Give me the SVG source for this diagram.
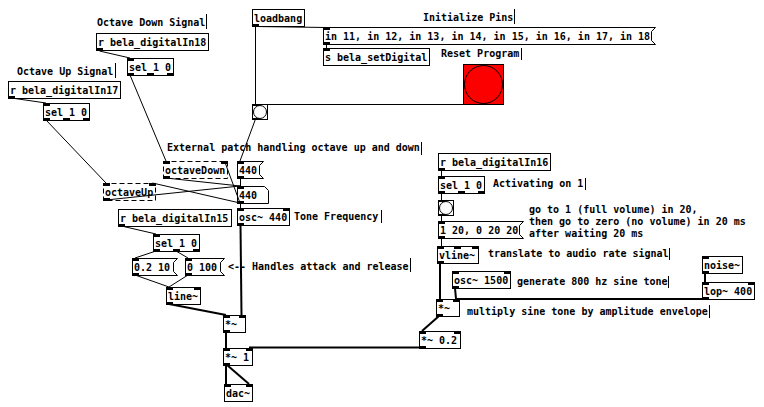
<svg xmlns="http://www.w3.org/2000/svg" width="764" height="407" viewBox="0 0 764 407">
<style>
.t{font-family:"DejaVu Sans Mono","Liberation Mono",monospace;font-size:10px;font-weight:bold;fill:#000}
.b{fill:none;stroke:#000;stroke-width:1}
.d{fill:none;stroke:#000;stroke-width:1;stroke-dasharray:5 3}
.io{fill:#000}
.c{fill:none;stroke:#000;stroke-width:1}
.s{fill:none;stroke:#000;stroke-width:2}
.bar{stroke:#000;stroke-width:1}
</style>
<rect width="764" height="407" fill="#fff"/>

<g id="cmt-octdown"><text class="t" x="97" y="26">Octave Down Signal</text><line class="bar" x1="206.5" y1="14" x2="206.5" y2="29"/></g>
<g id="r18"><rect class="b" x="96.5" y="33.5" width="112" height="17"/><rect class="io" x="96" y="48" width="7" height="3"/><text class="t" x="98" y="46">r bela_digitalIn18</text></g>
<g id="sel1"><rect class="b" x="127.5" y="58.5" width="46" height="17"/><rect class="io" x="127" y="58" width="7" height="3"/><rect class="io" x="127" y="73" width="7" height="3"/><rect class="io" x="147" y="73" width="7" height="3"/><rect class="io" x="167" y="73" width="7" height="3"/><text class="t" x="129" y="71">sel 1 0</text></g>
<g id="cmt-octup"><text class="t" x="17" y="75">Octave Up Signal</text><line class="bar" x1="115.5" y1="63" x2="115.5" y2="78"/></g>
<g id="r17"><rect class="b" x="8.5" y="81.5" width="112" height="17"/><rect class="io" x="8" y="96" width="7" height="3"/><text class="t" x="10" y="94">r bela_digitalIn17</text></g>
<g id="sel2"><rect class="b" x="43.5" y="103.5" width="46" height="17"/><rect class="io" x="43" y="103" width="7" height="3"/><rect class="io" x="43" y="118" width="7" height="3"/><rect class="io" x="63" y="118" width="7" height="3"/><rect class="io" x="83" y="118" width="7" height="3"/><text class="t" x="45" y="116">sel 1 0</text></g>

<g id="loadbang"><rect class="b" x="252.5" y="9.5" width="52" height="17"/><rect class="io" x="252" y="24" width="7" height="3"/><text class="t" x="254" y="22">loadbang</text></g>
<g id="cmt-init"><text class="t" x="423" y="21">Initialize Pins</text><line class="bar" x1="514.5" y1="9" x2="514.5" y2="24"/></g>
<g id="msg-pins"><path class="b" d="M323.5,27.5H655.5L651.5,31.5V40.5L655.5,44.5H323.5Z"/><rect class="io" x="323" y="27" width="7" height="3"/><rect class="io" x="323" y="42" width="7" height="3"/><text class="t" x="325" y="40">in 11, in 12, in 13, in 14, in 15, in 16, in 17, in 18</text></g>
<g id="send-digital"><rect class="b" x="323.5" y="48.5" width="106" height="17"/><rect class="io" x="323" y="48" width="7" height="3"/><text class="t" x="325" y="61">s bela_setDigital</text></g>
<g id="cmt-reset"><text class="t" x="441" y="57">Reset Program</text><line class="bar" x1="521.5" y1="48" x2="521.5" y2="60"/></g>
<g id="reset-bng"><rect x="463.5" y="64.5" width="40" height="40" fill="#fc0000" stroke="#000" stroke-width="1"/><circle cx="483.5" cy="84.5" r="19" fill="none" stroke="#000" stroke-width="1"/></g>
<g id="bng1"><rect class="b" x="252.5" y="104.5" width="15" height="15" fill="#fff"/><circle cx="260" cy="112" r="6.5" fill="#fcfcfc" stroke="#000"/><rect class="io" x="252" y="104" width="7" height="2"/><rect class="io" x="252" y="118" width="7" height="2"/></g>

<g id="cmt-external"><text class="t" x="167" y="151">External patch handling octave up and down</text><line class="bar" x1="421.5" y1="142" x2="421.5" y2="155"/></g>
<g id="octaveDown"><rect class="d" x="163.5" y="161.5" width="64" height="17"/><rect class="io" x="163" y="161" width="7" height="3"/><rect class="io" x="221" y="161" width="7" height="3"/><rect class="io" x="163" y="176" width="7" height="3"/><text class="t" x="165" y="174">octaveDown</text></g>
<g id="msg440"><path class="b" d="M237.5,161.5H263.5L259.5,165.5V174.5L263.5,178.5H237.5Z"/><rect class="io" x="237" y="161" width="7" height="3"/><rect class="io" x="237" y="176" width="7" height="3"/><text class="t" x="239" y="174">440</text></g>
<g id="octaveUp"><rect class="d" x="103.5" y="183.5" width="52" height="17"/><rect class="io" x="103" y="183" width="7" height="3"/><rect class="io" x="149" y="183" width="7" height="3"/><rect class="io" x="103" y="198" width="7" height="3"/><text class="t" x="105" y="196">octaveUp</text></g>
<g id="num440"><path class="b" d="M237.5,186.5H264.5L268.5,190.5V203.5H237.5Z"/><rect class="io" x="237" y="186" width="7" height="3"/><rect class="io" x="237" y="201" width="7" height="3"/><text class="t" x="239" y="199">440</text></g>
<g id="osc440"><rect class="b" x="237.5" y="208.5" width="52" height="17"/><rect class="io" x="237" y="208" width="7" height="3"/><rect class="io" x="283" y="208" width="7" height="3"/><rect class="io" x="237" y="223" width="7" height="3"/><text class="t" x="239" y="221">osc~ 440</text></g>
<g id="cmt-tone"><text class="t" x="294" y="220">Tone Frequency</text><line class="bar" x1="381.5" y1="210" x2="381.5" y2="223"/></g>
<g id="r15"><rect class="b" x="118.5" y="209.5" width="113" height="17"/><rect class="io" x="118" y="224" width="7" height="3"/><text class="t" x="120" y="222">r bela_digitalIn15</text></g>
<g id="sel3"><rect class="b" x="153.5" y="234.5" width="46" height="17"/><rect class="io" x="153" y="234" width="7" height="3"/><rect class="io" x="153" y="249" width="7" height="3"/><rect class="io" x="173" y="249" width="7" height="3"/><rect class="io" x="193" y="249" width="7" height="3"/><text class="t" x="155" y="247">sel 1 0</text></g>
<g id="msg-attack"><path class="b" d="M132.5,258.5H177.5L173.5,262.5V271.5L177.5,275.5H132.5Z"/><rect class="io" x="132" y="258" width="7" height="3"/><rect class="io" x="132" y="273" width="7" height="3"/><text class="t" x="134" y="271">0.2 10</text></g>
<g id="msg-release"><path class="b" d="M185.5,258.5H224.5L220.5,262.5V271.5L224.5,275.5H185.5Z"/><rect class="io" x="185" y="258" width="7" height="3"/><rect class="io" x="185" y="273" width="7" height="3"/><text class="t" x="187" y="271">0 100</text></g>
<g id="cmt-handles"><text class="t" x="228" y="270">&lt;-- Handles attack and release</text><line class="bar" x1="410.5" y1="258" x2="410.5" y2="272"/></g>
<g id="line"><rect class="b" x="166.5" y="287.5" width="34" height="17"/><rect class="io" x="166" y="287" width="7" height="3"/><rect class="io" x="194" y="287" width="7" height="3"/><rect class="io" x="166" y="302" width="7" height="3"/><text class="t" x="168" y="300">line~</text></g>
<g id="mul-a"><rect class="b" x="223.5" y="315.5" width="22" height="17"/><rect class="io" x="223" y="315" width="7" height="3"/><rect class="io" x="239" y="315" width="7" height="3"/><rect class="io" x="223" y="330" width="7" height="3"/><text class="t" x="225" y="328">*~</text></g>
<g id="mul-1"><rect class="b" x="223.5" y="348.5" width="29" height="17"/><rect class="io" x="223" y="348" width="7" height="3"/><rect class="io" x="246" y="348" width="7" height="3"/><rect class="io" x="223" y="363" width="7" height="3"/><text class="t" x="225" y="361">*~ 1</text></g>
<g id="dac"><rect class="b" x="224.5" y="384.5" width="28" height="17"/><rect class="io" x="224" y="384" width="7" height="3"/><rect class="io" x="246" y="384" width="7" height="3"/><text class="t" x="226" y="397">dac~</text></g>

<g id="r16"><rect class="b" x="438.5" y="153.5" width="112" height="17"/><rect class="io" x="438" y="168" width="7" height="3"/><text class="t" x="440" y="166">r bela_digitalIn16</text></g>
<g id="sel4"><rect class="b" x="438.5" y="176.5" width="46" height="17"/><rect class="io" x="438" y="176" width="7" height="3"/><rect class="io" x="438" y="191" width="7" height="3"/><rect class="io" x="458" y="191" width="7" height="3"/><rect class="io" x="478" y="191" width="7" height="3"/><text class="t" x="440" y="189">sel 1 0</text></g>
<g id="cmt-activating"><text class="t" x="493" y="187">Activating on 1</text><line class="bar" x1="585.5" y1="178" x2="585.5" y2="190"/></g>
<g id="bng2"><rect class="b" x="438.5" y="200.5" width="15" height="15"/><circle cx="446" cy="208" r="6.5" fill="#fcfcfc" stroke="#000"/><rect class="io" x="438" y="200" width="7" height="2"/><rect class="io" x="438" y="214" width="7" height="2"/></g>
<g id="cmt-goto"><text class="t" x="529" y="213">go to 1 (full volume) in 20,</text><text class="t" x="529" y="225">then go to zero (no volume) in 20 ms</text><text class="t" x="529" y="237">after waiting 20 ms</text></g>
<g id="msg-env"><path class="b" d="M438.5,221.5H523.5L519.5,225.5V234.5L523.5,238.5H438.5Z"/><rect class="io" x="438" y="221" width="7" height="3"/><rect class="io" x="438" y="236" width="7" height="3"/><text class="t" x="440" y="234">1 20, 0 20 20</text></g>
<g id="vline"><rect class="b" x="437.5" y="246.5" width="41" height="17"/><rect class="io" x="437" y="246" width="7" height="3"/><rect class="io" x="454" y="246" width="7" height="3"/><rect class="io" x="472" y="246" width="7" height="3"/><rect class="io" x="437" y="261" width="7" height="3"/><text class="t" x="439" y="259">vline~</text></g>
<g id="cmt-translate"><text class="t" x="488" y="257">translate to audio rate signal</text><line class="bar" x1="669.5" y1="248" x2="669.5" y2="260"/></g>
<g id="noise"><rect class="b" x="702.5" y="256.5" width="40" height="17"/><rect class="io" x="702" y="256" width="7" height="3"/><rect class="io" x="702" y="271" width="7" height="3"/><text class="t" x="704" y="269">noise~</text></g>
<g id="osc1500"><rect class="b" x="452.5" y="271.5" width="58" height="17"/><rect class="io" x="452" y="271" width="7" height="3"/><rect class="io" x="504" y="271" width="7" height="3"/><rect class="io" x="452" y="286" width="7" height="3"/><text class="t" x="454" y="284">osc~ 1500</text></g>
<g id="cmt-generate"><text class="t" x="517" y="285">generate 800 hz sine tone</text><line class="bar" x1="668.5" y1="276" x2="668.5" y2="288"/></g>
<g id="lop"><rect class="b" x="702.5" y="282.5" width="52" height="17"/><rect class="io" x="702" y="282" width="7" height="3"/><rect class="io" x="748" y="282" width="7" height="3"/><rect class="io" x="702" y="297" width="7" height="3"/><text class="t" x="704" y="295">lop~ 400</text></g>
<g id="mul-b"><rect class="b" x="436.5" y="299.5" width="23" height="17"/><rect class="io" x="436" y="299" width="7" height="3"/><rect class="io" x="453" y="299" width="7" height="3"/><rect class="io" x="436" y="314" width="7" height="3"/><text class="t" x="438" y="312">*~</text></g>
<g id="cmt-multiply"><text class="t" x="467" y="315">multiply sine tone by amplitude envelope</text><line class="bar" x1="709.5" y1="305" x2="709.5" y2="318"/></g>
<g id="mul-02"><rect class="b" x="419.5" y="331.5" width="41" height="17"/><rect class="io" x="419" y="331" width="7" height="3"/><rect class="io" x="454" y="331" width="7" height="3"/><rect class="io" x="419" y="346" width="7" height="3"/><text class="t" x="421" y="344">*~ 0.2</text></g>

<g id="connectors">
<path class="c" d="M99.5,51L130,58"/>
<path class="c" d="M130,75L166,161"/>
<path class="c" d="M11.5,98L46,103"/>
<path class="c" d="M46,120L106,183"/>
<path class="c" d="M255.5,26.5L326,27.5"/>
<path class="c" d="M255.5,26V104"/>
<path class="c" d="M326.5,44V48"/>
<path class="c" d="M466,104.5H255.5"/>
<path class="c" d="M255.5,119L240,161"/>
<path class="c" d="M240.5,178V186"/>
<path class="c" d="M166,178L240,186"/>
<path class="c" d="M106,200L240,186"/>
<path class="c" d="M240,203L224.5,161"/>
<path class="c" d="M240,203L152.5,183"/>
<path class="c" d="M240.5,203V208"/>
<path class="c" d="M121.5,226L156,234"/>
<path class="c" d="M156,251L135,258"/>
<path class="c" d="M176,251L188,258"/>
<path class="c" d="M135,275L169,287"/>
<path class="c" d="M188,275L169,287"/>
<path class="c" d="M441.5,170V176"/>
<path class="c" d="M441.5,193V200"/>
<path class="c" d="M441.5,215V221"/>
<path class="c" d="M441.5,238V246"/>
<path class="s" d="M240.5,225L241.5,315"/>
<path class="s" d="M169,304L226,315"/>
<path class="s" d="M226,332V348"/>
<path class="s" d="M422,347.5H249"/>
<path class="s" d="M226,365V384"/>
<path class="s" d="M227,365L249,384"/>
<path class="s" d="M440,263V299"/>
<path class="s" d="M455,288L456,299"/>
<path class="s" d="M705,299H456"/>
<path class="s" d="M705,273V282"/>
<path class="s" d="M439,316L422,331"/>
</g>
</svg>
